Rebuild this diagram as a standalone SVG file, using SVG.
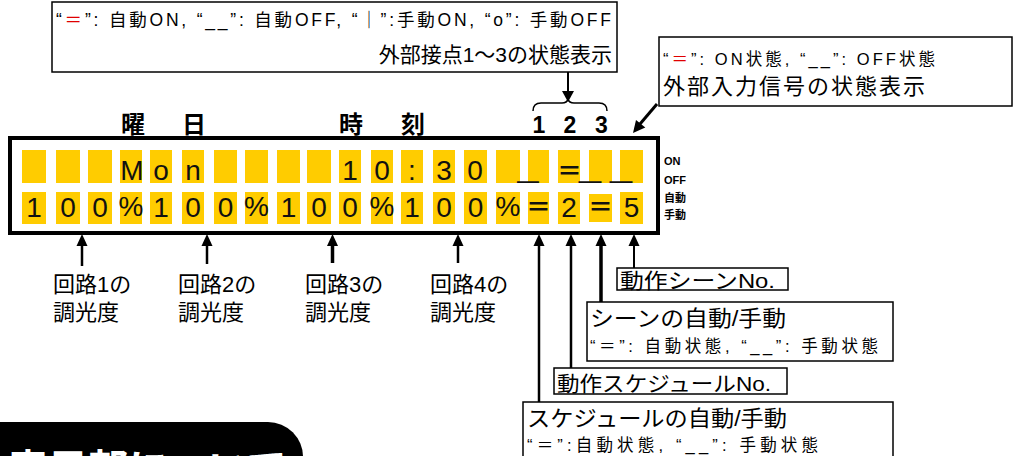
<svg xmlns="http://www.w3.org/2000/svg" width="1024" height="456" viewBox="0 0 1024 456">
<style>
.box{fill:#fff;stroke:#000;stroke-width:1.5}
.cell{fill:#ffcc00}
.ch{font-family:"Liberation Sans","Noto Sans CJK JP",sans-serif;font-size:28px;fill:#111;text-anchor:middle}
.eq{font-family:"Noto Sans CJK JP",sans-serif;font-size:25px;font-weight:bold;fill:#111;text-anchor:middle}
.jp{font-family:"Liberation Sans","Noto Sans CJK JP",sans-serif;fill:#000}
.hd{font-family:"Noto Sans CJK JP",sans-serif;font-size:24px;font-weight:bold;fill:#000;text-anchor:middle}
.num{font-family:"Liberation Sans",sans-serif;font-size:23px;font-weight:bold;fill:#000;text-anchor:middle}
.sm{font-family:"Liberation Sans","Noto Sans CJK JP",sans-serif;font-size:11px;font-weight:bold;fill:#000}
.ln{stroke:#000;fill:none}
.red{fill:#e00000}
</style>

<g id="lcd">
<rect x="10" y="138" width="648" height="95" fill="#fff" stroke="#000" stroke-width="4"/>
<g id="row1">
<rect class="cell" x="22" y="150" width="24" height="33"/>
<rect class="cell" x="56" y="150" width="24" height="33"/>
<rect class="cell" x="88" y="150" width="24" height="33"/>
<rect class="cell" x="120" y="150" width="22" height="33"/>
<rect class="cell" x="150" y="150" width="22" height="33"/>
<rect class="cell" x="182" y="150" width="22" height="33"/>
<rect class="cell" x="214" y="150" width="23" height="33"/>
<rect class="cell" x="245" y="150" width="23" height="33"/>
<rect class="cell" x="277" y="150" width="23" height="33"/>
<rect class="cell" x="307" y="150" width="24" height="33"/>
<rect class="cell" x="339" y="150" width="22" height="33"/>
<rect class="cell" x="371" y="150" width="22" height="33"/>
<rect class="cell" x="401" y="150" width="22" height="33"/>
<rect class="cell" x="433" y="150" width="22" height="33"/>
<rect class="cell" x="464" y="150" width="23" height="33"/>
<rect class="cell" x="496" y="150" width="24" height="33"/>
<rect class="cell" x="528" y="150" width="21" height="33"/>
<rect class="cell" x="558" y="150" width="22" height="33"/>
<rect class="cell" x="589" y="150" width="23" height="33"/>
<rect class="cell" x="620" y="150" width="23" height="33"/>
<text class="ch" x="132" y="180">M</text>
<text class="ch" x="161" y="180">o</text>
<text class="ch" x="193" y="180">n</text>
<text class="ch" x="350" y="180">1</text>
<text class="ch" x="382" y="180">0</text>
<text class="ch" x="412" y="180">:</text>
<text class="ch" x="444" y="180">3</text>
<text class="ch" x="475" y="180">0</text>
<text class="ch" x="528" y="177" text-anchor="start" textLength="21" lengthAdjust="spacingAndGlyphs">_</text>
<text class="eq" x="569.5" y="179.5">＝</text>
<text class="ch" x="590" y="177" text-anchor="start" textLength="22" lengthAdjust="spacingAndGlyphs">_</text>
<text class="ch" x="621" y="177" text-anchor="start" textLength="22" lengthAdjust="spacingAndGlyphs">_</text>
</g>
<g id="row2">
<rect class="cell" x="22" y="192" width="24" height="32"/>
<rect class="cell" x="56" y="192" width="24" height="32"/>
<rect class="cell" x="88" y="192" width="24" height="32"/>
<rect class="cell" x="120" y="192" width="22" height="32"/>
<rect class="cell" x="150" y="192" width="22" height="32"/>
<rect class="cell" x="182" y="192" width="22" height="32"/>
<rect class="cell" x="214" y="192" width="23" height="32"/>
<rect class="cell" x="245" y="192" width="23" height="32"/>
<rect class="cell" x="277" y="192" width="23" height="32"/>
<rect class="cell" x="307" y="192" width="24" height="32"/>
<rect class="cell" x="339" y="192" width="22" height="32"/>
<rect class="cell" x="371" y="192" width="22" height="32"/>
<rect class="cell" x="401" y="192" width="22" height="32"/>
<rect class="cell" x="433" y="192" width="22" height="32"/>
<rect class="cell" x="464" y="192" width="23" height="32"/>
<rect class="cell" x="496" y="192" width="24" height="32"/>
<rect class="cell" x="528" y="192" width="21" height="32"/>
<rect class="cell" x="558" y="192" width="22" height="32"/>
<rect class="cell" x="589" y="194" width="23" height="28"/>
<rect class="cell" x="620" y="192" width="23" height="32"/>
<text class="ch" x="34" y="217">1</text>
<text class="ch" x="68" y="217">0</text>
<text class="ch" x="100" y="217">0</text>
<text class="ch" x="131" y="216" font-size="22">%</text>
<text class="ch" x="161" y="217">1</text>
<text class="ch" x="193" y="217">0</text>
<text class="ch" x="225.5" y="217">0</text>
<text class="ch" x="256.5" y="216" font-size="22">%</text>
<text class="ch" x="288.5" y="217">1</text>
<text class="ch" x="319" y="217">0</text>
<text class="ch" x="350" y="217">0</text>
<text class="ch" x="382" y="216" font-size="22">%</text>
<text class="ch" x="412" y="217">1</text>
<text class="ch" x="444" y="217">0</text>
<text class="ch" x="475.5" y="217">0</text>
<text class="ch" x="508" y="216" font-size="22">%</text>
<text class="eq" x="538.5" y="216">＝</text>
<text class="ch" x="569" y="217">2</text>
<text class="eq" x="600.5" y="216">＝</text>
<text class="ch" x="631.5" y="217">5</text>
</g>
</g>

<g id="headers">
<text class="hd" x="133" y="133">曜</text>
<text class="hd" x="194" y="133">日</text>
<text class="hd" x="351" y="133">時</text>
<text class="hd" x="413" y="133">刻</text>
<text class="num" x="539" y="133">1</text>
<text class="num" x="570" y="133">2</text>
<text class="num" x="601.5" y="133">3</text>
</g>

<g id="legend">
<text class="sm" x="664" y="165">ON</text>
<text class="sm" x="664" y="183.5">OFF</text>
<text class="sm" x="664" y="202">自動</text>
<text class="sm" x="664" y="219">手動</text>
</g>

<g id="box-contacts">
<rect class="box" x="52" y="2" width="565" height="70"/>
<text class="jp" x="56" y="26" font-size="17.5" textLength="555" lengthAdjust="spacing">“<tspan class="red">＝</tspan>”: 自動ON, “__”: 自動OFF, “｜”:手動ON, “o”: 手動OFF</text>
<text class="jp" x="612" y="62" font-size="21" text-anchor="end">外部接点1～3の状態表示</text>
</g>

<g id="box-input">
<rect class="box" x="659" y="37" width="353" height="69"/>
<text class="jp" x="663" y="65" font-size="16.5" textLength="272" lengthAdjust="spacing">“<tspan class="red">＝</tspan>”: ON状態, “__”: OFF状態</text>
<text class="jp" x="663" y="94" font-size="22" textLength="262" lengthAdjust="spacing">外部入力信号の状態表示</text>
</g>

<g id="lbl-c1"><text class="jp" font-size="22" x="53" y="292">回路1の</text><text class="jp" font-size="22" x="53" y="320">調光度</text></g>
<g id="lbl-c2"><text class="jp" font-size="22" x="178" y="292">回路2の</text><text class="jp" font-size="22" x="178" y="320">調光度</text></g>
<g id="lbl-c3"><text class="jp" font-size="22" x="305" y="292">回路3の</text><text class="jp" font-size="22" x="305" y="320">調光度</text></g>
<g id="lbl-c4"><text class="jp" font-size="22" x="430" y="292">回路4の</text><text class="jp" font-size="22" x="430" y="320">調光度</text></g>

<g id="box-scene-no">
<rect class="box" x="617" y="268" width="171" height="22"/>
<text class="jp" x="620" y="288" font-size="21" textLength="155" lengthAdjust="spacingAndGlyphs">動作シーンNo.</text>
</g>

<g id="box-scene-mode">
<rect class="box" x="587" y="302" width="306" height="59"/>
<text class="jp" x="590" y="326" font-size="22" textLength="196" lengthAdjust="spacingAndGlyphs">シーンの自動/手動</text>
<text class="jp" x="590" y="352" font-size="16.5" textLength="288" lengthAdjust="spacing">“＝”: 自動状態, “__”: 手動状態</text>
</g>

<g id="box-sched-no">
<rect class="box" x="554" y="368" width="233" height="26"/>
<text class="jp" x="557" y="391" font-size="21" textLength="214" lengthAdjust="spacingAndGlyphs">動作スケジュールNo.</text>
</g>

<g id="box-sched-mode">
<rect class="box" x="523" y="402" width="370" height="70"/>
<text class="jp" x="527" y="426" font-size="22" textLength="260" lengthAdjust="spacingAndGlyphs">スケジュールの自動/手動</text>
<text class="jp" x="527" y="451" font-size="16.5" textLength="291" lengthAdjust="spacing">“＝”:自動状態, “__”: 手動状態</text>
</g>

<g id="title-tab">
<path d="M-10,422 L268,422 A35,35 0 0 1 303,457 L303,470 L-10,470 Z" fill="#000"/>
<text x="8" y="483" font-family="Noto Sans CJK JP,sans-serif" font-size="40" font-weight="bold" fill="#fff">表示部について</text>
</g>

<g id="connectors">
<path class="ln" d="M533,111 Q533,103 541,103 L562,103 Q567,103 568,99 Q569,103 574,103 L599,103 Q607,103 607,111" stroke-width="1.5"/>
<line class="ln" x1="568" y1="72" x2="568" y2="92" stroke-width="2"/>
<polygon points="562,91 574,91 568,102" fill="#000"/>
<line class="ln" x1="657" y1="104" x2="640" y2="124" stroke-width="3"/>
<polygon points="633,133 645.3,127.6 636,119.9" fill="#000"/>
<g id="arrows-bottom">
<line class="ln" x1="82" y1="245" x2="82" y2="266" stroke-width="2.5"/>
<polygon points="82,234 76.5,246 87.5,246" fill="#000"/>
<line class="ln" x1="207" y1="245" x2="207" y2="264" stroke-width="2.5"/>
<polygon points="207,234 201.5,246 212.5,246" fill="#000"/>
<line class="ln" x1="332.5" y1="245" x2="332.5" y2="263" stroke-width="3.5"/>
<polygon points="332.5,234 327,246 338,246" fill="#000"/>
<line class="ln" x1="458" y1="245" x2="458" y2="263" stroke-width="2.5"/>
<polygon points="458,234 452.5,246 463.5,246" fill="#000"/>
</g>
<g id="arrows-right">
<line class="ln" x1="539" y1="245" x2="539" y2="402" stroke-width="2.5"/>
<polygon points="539,234 533.5,246 544.5,246" fill="#000"/>
<line class="ln" x1="571" y1="245" x2="571" y2="368" stroke-width="2.5"/>
<polygon points="571,234 565.5,246 576.5,246" fill="#000"/>
<line class="ln" x1="601" y1="245" x2="601" y2="302" stroke-width="3.5"/>
<polygon points="601,234 595.5,246 606.5,246" fill="#000"/>
<line class="ln" x1="634" y1="245" x2="634" y2="268" stroke-width="2"/>
<polygon points="634,234 628.5,246 639.5,246" fill="#000"/>
</g>
</g>
</svg>
